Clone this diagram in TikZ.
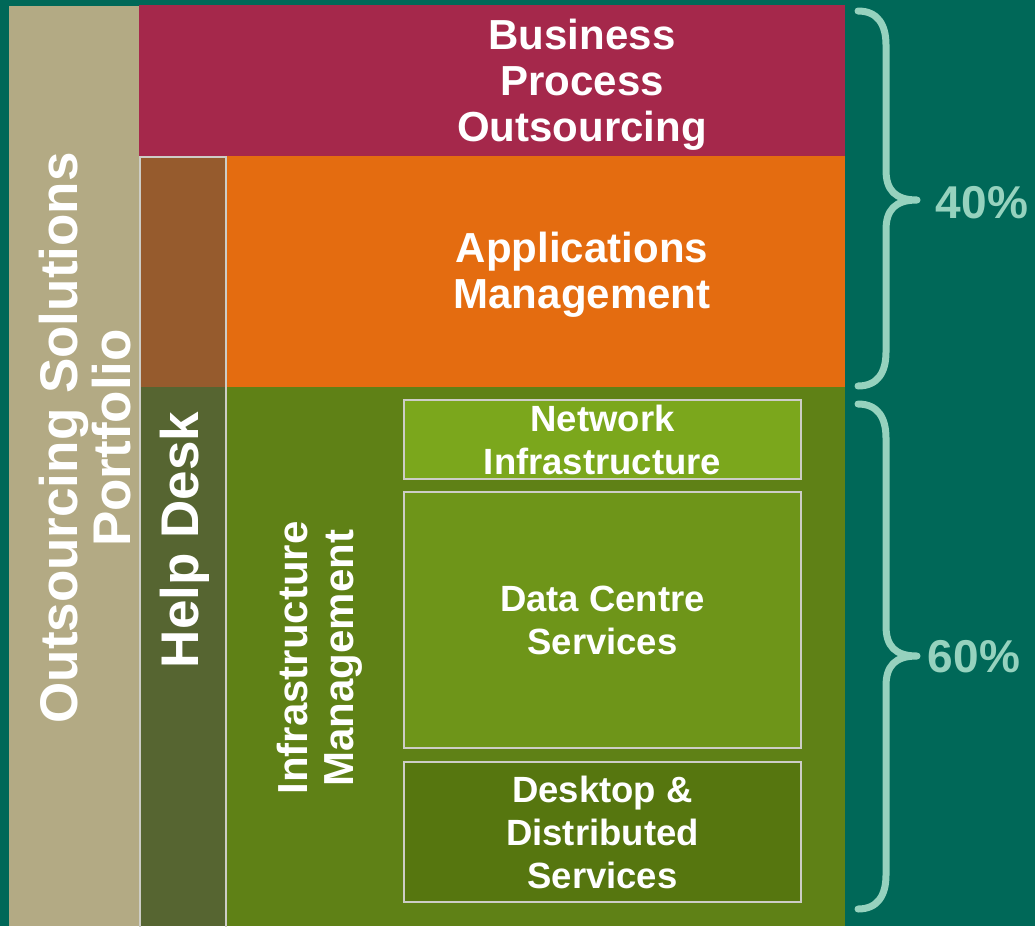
\documentclass[tikz,border=0pt]{standalone}
\usepackage{fontspec}
\setmainfont{Liberation Sans}
\definecolor{bgteal}{HTML}{006858}
\definecolor{portfoliotan}{HTML}{B3AA84}
\definecolor{bpored}{HTML}{A5284B}
\definecolor{apporange}{HTML}{E46C10}
\definecolor{infragreen}{HTML}{5F8116}
\definecolor{helpbrown}{HTML}{965B2D}
\definecolor{helpolive}{HTML}{566531}
\definecolor{netgreen}{HTML}{7BA71C}
\definecolor{dcgreen}{HTML}{6E9519}
\definecolor{deskgreen}{HTML}{56760F}
\definecolor{edgegray}{HTML}{CDCDC6}
\definecolor{bracemint}{HTML}{96D2BE}
\begin{document}
\begin{tikzpicture}[x=1pt,y=-1pt,
  label/.style={text=white, align=center, inner sep=0pt,
    font=\fontsize{42}{46}\selectfont\bfseries},
  sidelabel/.style={label, rotate=90,
    font=\fontsize{53}{53}\selectfont\bfseries},
  panel/.style={draw=edgegray, line width=2pt, text=white, align=center,
    inner sep=0pt, minimum width=397, font=\fontsize{36.5}{43}\selectfont\bfseries},
  bracket/.style={draw=bracemint, line width=7pt, line cap=round, line join=round},
  pct/.style={text=bracemint, inner sep=0pt, font=\fontsize{46}{46}\selectfont\bfseries}
]
\useasboundingbox (0,0) rectangle (1035,926);
\fill[bgteal] (0,0) rectangle (1035,926);

% coloured bands
\fill[portfoliotan] (9,6) rectangle (139,926);
\fill[bpored] (139,5) rectangle (845,156);
\fill[apporange] (226,156) rectangle (845,387);
\fill[infragreen] (226,387) rectangle (845,926);
\fill[helpbrown] (139,156) rectangle (226,387);
\fill[helpolive] (139,387) rectangle (226,926);
\draw[edgegray, line width=2pt] (140,157) rectangle (226,930);

% band labels
\node[label] (bpo) at (582,85) {Business\\Process\\Outsourcing};
\node[label] (apps) at (582,275) {Applications\\Management};
\node[label, rotate=90] (infra) at (319.5,658) {Infrastructure\\Management};
\node[sidelabel] (help) at (185,540) {Help Desk};
\node[sidelabel] (portfolio) at (85,438) {Outsourcing Solutions\\Portfolio};

% infrastructure services
\node[panel, fill=netgreen, minimum height=79] (net) at (602.5,439.5) {Network\\Infrastructure};
\node[panel, fill=dcgreen, minimum height=256] (dc) at (602.5,620) {Data Centre\\Services};
\node[panel, fill=deskgreen, minimum height=140] (desk) at (602.5,832) {Desktop \&\\Distributed\\Services};

% braces with shares
\draw[bracket] (858,11) .. controls (878,11) and (886,25) .. (886,45)
  -- (886,170) .. controls (886,190) and (895,200) .. (917,200)
  .. controls (895,200) and (886,210) .. (886,230)
  -- (886,352) .. controls (886,372) and (878,386) .. (858,386);
\draw[bracket] (858,404) .. controls (878,404) and (886,418) .. (886,438)
  -- (886,626) .. controls (886,646) and (895,656) .. (917,656)
  .. controls (895,656) and (886,666) .. (886,686)
  -- (886,875) .. controls (886,895) and (878,909) .. (858,909);
\node[pct] (p40) at (982,203) {40\%};
\node[pct] (p60) at (974,657) {60\%};
\end{tikzpicture}
\end{document}
